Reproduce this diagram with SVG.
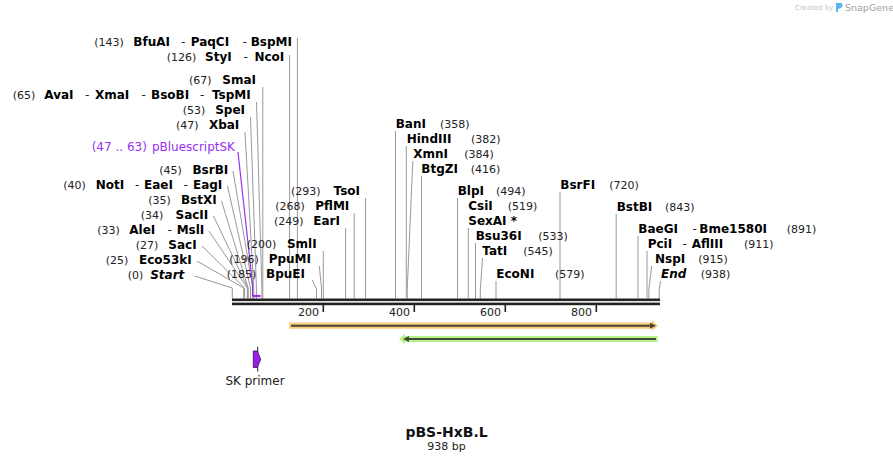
<svg xmlns="http://www.w3.org/2000/svg" width="893" height="462" viewBox="0 0 893 462">
<style>
text{font-family:"DejaVu Sans",Verdana,sans-serif}
.n{font-size:12px;font-weight:bold;fill:#000}
.i{font-style:italic}
.c{font-size:11px;fill:#222}
.d{font-size:12px;fill:#222}
.e{text-anchor:end}
.l{stroke:#999;stroke-width:1;fill:none}
.tk{stroke:#222;stroke-width:1.6}
.p{fill:#9b30f0}
</style>
<rect width="893" height="462" fill="#fff"/>
<g id="logo">
<text x="795" y="10" style="font-size:7px;fill:#c4c4c4">Created by</text>
<path d="M836,3 L841,3 Q843,3 842.5,6 L841,8 L838,9 L838,12 L836,12 Z" fill="#5ab4ee"/>
<text x="845" y="11" style="font-size:9.5px;fill:#a0a0a0">SnapGene</text>
</g>
<g id="connectors">
<path class="l" d="M297.4,38V298.5M289.6,55V298.5M262.8,87V298.5M256.5,102L261.9,288V298.5M250.5,117L256.4,288V298.5M245,132L253.7,288V298.5M233,171L252.8,288V298.5M227.5,186L250.5,288V298.5M221.5,201L248.2,288V298.5M213.5,216L247.8,288V298.5M209,231L247.3,288V298.5M202,246L244.6,288V298.5M197,261L243.7,288V298.5M194.5,276L232.3,288V298.5"/>
<path class="l" d="M365.6,198V298.5M354.2,213V298.5M345.6,228V298.5M323.3,251V298.5M319.3,266L321.5,288V298.5M312.3,280L316.5,289V298.5"/>
<path class="l" d="M395.5,131V298.5M406.3,146V298.5M412.8,161L407.2,290V298.5M421.5,176V298.5M457.5,198V298.5M468.3,228V298.5M475.5,243V298.5M482.5,258L480.3,290V298.5M496,281V298.5M560,192V298.5M616.2,214V298.5M638,236V298.5M647,251V298.5M651.7,266L648.8,290V298.5M660.5,281L659.2,290V298.5"/>
<path d="M238,152L252.5,284V296" stroke="#9b30f0" stroke-width="1.2" fill="none"/>
<path d="M252.5,296H260.5" stroke="#9b30f0" stroke-width="2.2"/>
</g>
<g id="sequence">
<rect x="232" y="298.5" width="428" height="2.6" fill="#222"/>
<rect x="232" y="302.6" width="428" height="2.6" fill="#222"/>
<line class="tk" x1="323.3" y1="305" x2="323.3" y2="312"/>
<line class="tk" x1="414.3" y1="305" x2="414.3" y2="312"/>
<line class="tk" x1="505.3" y1="305" x2="505.3" y2="312"/>
<line class="tk" x1="596.3" y1="305" x2="596.3" y2="312"/>
<text class="c e" x="319" y="316">200</text>
<text class="c e" x="410" y="316">400</text>
<text class="c e" x="501" y="316">600</text>
<text class="c e" x="592" y="316">800</text>
</g>
<g id="feature-orange">
<path d="M289,322.6H652V320.3L658,325.7L652,331.1V328.8H289Z" fill="#f9c97a"/>
<line x1="291" y1="325.7" x2="651" y2="325.7" stroke="#4a4436" stroke-width="2"/>
<path d="M650,322.7L656,325.7L650,328.7Z" fill="#4a4436"/>
</g>
<g id="feature-green">
<path d="M657.7,336H405V333.6L399,339L405,344.4V342H657.7Z" fill="#b9ef8c"/>
<line x1="408" y1="339" x2="656" y2="339" stroke="#3f4a38" stroke-width="2"/>
<path d="M409,336L403,339L409,342Z" fill="#3f4a38"/>
</g>
<g id="sk-primer">
<line x1="257.7" y1="346.7" x2="257.7" y2="371.5" stroke="#222" stroke-width="1"/>
<path d="M253.3,351H257.3L260.7,359.3L257.3,367.5H253.3Z" fill="#9b1de8" stroke="#3a0a60" stroke-width="0.8"/>
<text x="255" y="385" style="font-size:12px;fill:#222;text-anchor:middle">SK primer</text>
</g>
<g id="title">
<text x="446.5" y="437" style="font-size:14px;font-weight:bold;fill:#111;text-anchor:middle">pBS-HxB.L</text>
<text x="446.5" y="450" style="font-size:11px;fill:#222;text-anchor:middle">938 bp</text>
</g>
<g id="BfuAI"><text class="c" x="94.3" y="46">(143)</text><text class="n" x="133.3" y="46">BfuAI</text><text class="d" x="181" y="46">-</text><text class="n" x="190.7" y="46">PaqCI</text><text class="d" x="242.5" y="46">-</text><text class="n e" x="292" y="46">BspMI</text></g>
<g id="StyI"><text class="c" x="166.7" y="61">(126)</text><text class="n" x="205" y="61">StyI</text><text class="d" x="243.5" y="61">-</text><text class="n e" x="284.3" y="61">NcoI</text></g>
<g id="SmaI"><text class="c" x="189" y="84">(67)</text><text class="n e" x="256" y="84">SmaI</text></g>
<g id="AvaI"><text class="c" x="12.7" y="99">(65)</text><text class="n" x="44.3" y="99">AvaI</text><text class="d" x="85" y="99">-</text><text class="n" x="95" y="99">XmaI</text><text class="d" x="141.5" y="99">-</text><text class="n" x="151" y="99">BsoBI</text><text class="d" x="200" y="99">-</text><text class="n e" x="250.7" y="99">TspMI</text></g>
<g id="SpeI"><text class="c" x="182.7" y="114">(53)</text><text class="n e" x="245" y="114">SpeI</text></g>
<g id="XbaI"><text class="c" x="176" y="129">(47)</text><text class="n e" x="239.3" y="129">XbaI</text></g>
<g id="pBluescriptSK"><text class="p" x="91.7" y="151" style="font-size:12px">(47 .. 63)</text><text class="p e" x="235" y="151" style="font-size:12px">pBluescriptSK</text></g>
<g id="BsrBI"><text class="c" x="159.3" y="174">(45)</text><text class="n e" x="228.3" y="174">BsrBI</text></g>
<g id="NotI"><text class="c" x="63.3" y="189">(40)</text><text class="n" x="95.7" y="189">NotI</text><text class="d" x="135" y="189">-</text><text class="n" x="144" y="189">EaeI</text><text class="d" x="183.5" y="189">-</text><text class="n e" x="222.3" y="189">EagI</text></g>
<g id="BstXI"><text class="c" x="148.3" y="204">(35)</text><text class="n e" x="216.7" y="204">BstXI</text></g>
<g id="SacII"><text class="c" x="140.7" y="219">(34)</text><text class="n e" x="208.3" y="219">SacII</text></g>
<g id="AleI"><text class="c" x="97.3" y="234">(33)</text><text class="n" x="129.3" y="234">AleI</text><text class="d" x="167.5" y="234">-</text><text class="n e" x="204.3" y="234">MslI</text></g>
<g id="SacI"><text class="c" x="135.7" y="249">(27)</text><text class="n e" x="196.7" y="249">SacI</text></g>
<g id="Eco53kI"><text class="c" x="105.7" y="264">(25)</text><text class="n e" x="191.7" y="264">Eco53kI</text></g>
<g id="Start"><text class="c" x="127.7" y="279">(0)</text><text class="n i e" x="184.3" y="279">Start</text></g>
<g id="TsoI"><text class="c" x="291" y="195">(293)</text><text class="n e" x="360" y="195">TsoI</text></g>
<g id="PflMI"><text class="c" x="275.3" y="210">(268)</text><text class="n e" x="349.3" y="210">PflMI</text></g>
<g id="EarI"><text class="c" x="274" y="225">(249)</text><text class="n e" x="340" y="225">EarI</text></g>
<g id="SmlI"><text class="c" x="246.7" y="248">(200)</text><text class="n e" x="316.7" y="248">SmlI</text></g>
<g id="PpuMI"><text class="c" x="229.3" y="263">(196)</text><text class="n e" x="311" y="263">PpuMI</text></g>
<g id="BpuEI"><text class="c" x="226.7" y="278">(185)</text><text class="n e" x="305" y="278">BpuEI</text></g>
<g id="BanI"><text class="n" x="395.7" y="128">BanI</text><text class="c" x="440" y="128">(358)</text></g>
<g id="HindIII"><text class="n" x="406.7" y="143">HindIII</text><text class="c" x="471" y="143">(382)</text></g>
<g id="XmnI"><text class="n" x="413.3" y="158">XmnI</text><text class="c" x="464.3" y="158">(384)</text></g>
<g id="BtgZI"><text class="n" x="421.3" y="173">BtgZI</text><text class="c" x="470.7" y="173">(416)</text></g>
<g id="BlpI"><text class="n" x="457.7" y="195">BlpI</text><text class="c" x="496" y="195">(494)</text></g>
<g id="CsiI"><text class="n" x="468.3" y="210">CsiI</text><text class="c" x="507.7" y="210">(519)</text></g>
<g id="SexAI"><text class="n" x="468.3" y="225">SexAI *</text></g>
<g id="Bsu36I"><text class="n" x="475.7" y="240">Bsu36I</text><text class="c" x="538.3" y="240">(533)</text></g>
<g id="TatI"><text class="n" x="482.3" y="255">TatI</text><text class="c" x="523.3" y="255">(545)</text></g>
<g id="EcoNI"><text class="n" x="496.3" y="278">EcoNI</text><text class="c" x="555" y="278">(579)</text></g>
<g id="BsrFI"><text class="n" x="560.3" y="188.5">BsrFI</text><text class="c" x="609.3" y="188.5">(720)</text></g>
<g id="BstBI"><text class="n" x="616.7" y="211">BstBI</text><text class="c" x="665" y="211">(843)</text></g>
<g id="BaeGI"><text class="n" x="638.3" y="233">BaeGI</text><text class="d" x="692.5" y="233">-</text><text class="n" x="699.3" y="233">Bme1580I</text><text class="c" x="786.7" y="233">(891)</text></g>
<g id="PciI"><text class="n" x="647.7" y="248">PciI</text><text class="d" x="682.5" y="248">-</text><text class="n" x="691.7" y="248">AflIII</text><text class="c" x="744" y="248">(911)</text></g>
<g id="NspI"><text class="n" x="655" y="263">NspI</text><text class="c" x="698.3" y="263">(915)</text></g>
<g id="End"><text class="n i" x="661" y="278">End</text><text class="c" x="700.7" y="278">(938)</text></g>
</svg>
